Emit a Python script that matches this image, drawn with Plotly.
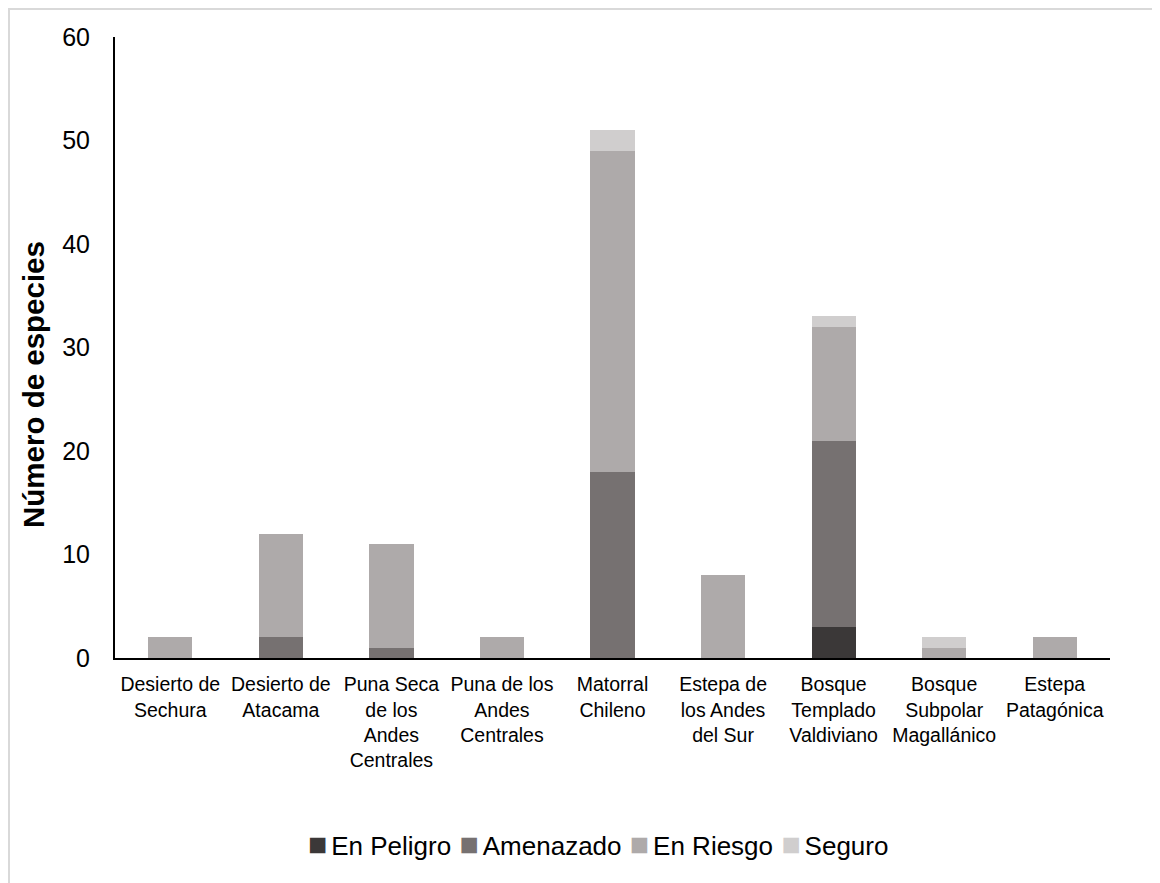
import plotly.graph_objects as go

categories = [
    "Desierto de<br>Sechura",
    "Desierto de<br>Atacama",
    "Puna Seca<br>de los<br>Andes<br>Centrales",
    "Puna de los<br>Andes<br>Centrales",
    "Matorral<br>Chileno",
    "Estepa de<br>los Andes<br>del Sur",
    "Bosque<br>Templado<br>Valdiviano",
    "Bosque<br>Subpolar<br>Magallánico",
    "Estepa<br>Patagónica",
]
en_peligro = [0, 0, 0, 0, 0, 0, 3, 0, 0]
amenazado = [0, 2, 1, 0, 18, 0, 18, 0, 0]
en_riesgo = [2, 10, 10, 2, 31, 8, 11, 1, 2]
seguro = [0, 0, 0, 0, 2, 0, 1, 1, 0]

series_names = ["En Peligro", "Amenazado", "En Riesgo", "Seguro"]
series_values = [en_peligro, amenazado, en_riesgo, seguro]
series_colors = ["#3b3838", "#767171", "#aeaaaa", "#d0cece"]

FONT = "Liberation Sans, Arial, sans-serif"

L, T, PW, PH = 107, 29, 995, 621
W, H = 1160, 883

fig = go.Figure()
for name, vals, color in zip(series_names, series_values, series_colors):
    fig.add_trace(go.Bar(
        x=categories, y=vals, name=name,
        marker=dict(color=color, line=dict(width=0)),
        showlegend=False,
    ))

# compact Excel-like legend built from the series names/colours
legend_parts = []
for i, (name, color) in enumerate(zip(series_names, series_colors)):
    sep = "" if i == 0 else '<span style="font-size:30px">\u00a0</span>'
    legend_parts.append(
        f'{sep}<span style="color:{color};font-size:32px">\u25a0</span>'
        f'<span style="font-size:14px">\u00a0</span>{name}'
    )
legend_text = "".join(legend_parts)

fig.update_layout(
    barmode="stack",
    bargap=0.6,
    width=W, height=H,
    margin=dict(l=L, r=W - L - PW, t=T, b=H - T - PH),
    paper_bgcolor="white",
    plot_bgcolor="white",
    font=dict(family=FONT, color="#000000"),
    showlegend=False,
    xaxis=dict(
        showline=True, linecolor="#000000", linewidth=2,
        ticks="", tickfont=dict(size=19.5, family=FONT),
        showgrid=False, ticklabelstandoff=8,
    ),
    yaxis=dict(
        range=[0, 60], dtick=10, showline=True, linecolor="#000000", linewidth=2,
        ticks="", showgrid=False, zeroline=False,
        tickfont=dict(size=25, family=FONT), ticklabelstandoff=18,
    ),
    annotations=[
        dict(
            text="<b>Número de especies</b>", textangle=-90,
            xref="paper", yref="paper", x=(33 - 115) / PW, y=(658 - 385) / PH,
            xanchor="center", yanchor="middle", showarrow=False,
            font=dict(size=29.5, family=FONT, color="#000000"),
        ),
        dict(
            text=legend_text,
            xref="paper", yref="paper", x=(598 - 115) / PW, y=(658 - 844) / PH,
            xanchor="center", yanchor="middle", showarrow=False,
            font=dict(size=26, family=FONT, color="#000000"),
        ),
    ],
    shapes=[dict(
        type="rect", xref="paper", yref="paper",
        x0=(1 - L) / PW, x1=1.2, y0=-0.6, y1=1 + (T - 1) / PH,
        line=dict(color="#d9d9d9", width=2), fillcolor="rgba(0,0,0,0)", layer="below",
    )],
)

fig.update_yaxes(automargin=False)
fig.update_xaxes(automargin=False)

fig.write_html("out.html")
